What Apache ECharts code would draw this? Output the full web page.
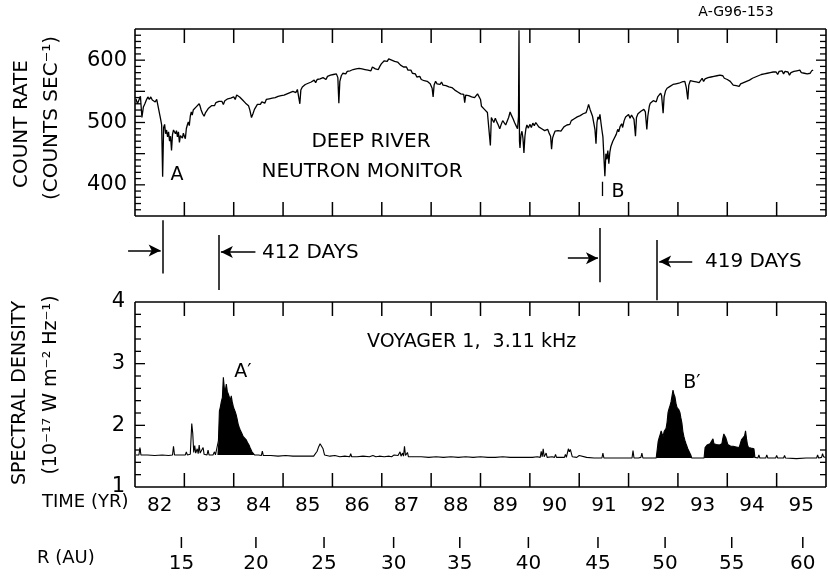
<!DOCTYPE html>
<html><head><meta charset="utf-8">
<script src="https://cdn.jsdelivr.net/npm/echarts@6/dist/echarts.min.js"></script>
<style>html,body{margin:0;padding:0;background:#fff}.c{width:828px;height:584px}</style>
</head><body><div class="c" id="v0"></div>
<script>
// ---- Deep River neutron monitor (count rate, counts/s) ----
const nmYear = [
 1982.02,1982.05,1982.08,1982.11,1982.14,1982.17,1982.20,1982.23,1982.26,1982.29,1982.32,1982.35,1982.38,1982.41,1982.44,1982.47,1982.50,1982.52,1982.54,1982.56,1982.58,1982.60,1982.62,1982.64,1982.66,1982.68,1982.70,1982.72,1982.74,1982.76,1982.78,1982.80,1982.82,1982.84,1982.86,1982.88,1982.90,1982.92,1982.94,1982.96,1982.98,
 1983.00,1983.02,1983.04,1983.06,1983.08,1983.10,1983.12,1983.14,1983.16,1983.18,1983.20,1983.22,1983.24,1983.26,1983.28,1983.30,1983.32,1983.34,1983.37,1983.40,1983.43,1983.46,1983.49,1983.52,1983.55,1983.58,1983.61,1983.64,1983.67,1983.70,1983.73,1983.76,1983.79,1983.82,1983.85,1983.88,1983.91,1983.94,1983.97,
 1984.00,1984.03,1984.06,1984.09,1984.12,1984.15,1984.18,1984.21,1984.24,1984.27,1984.30,1984.33,1984.36,1984.39,1984.42,1984.45,1984.48,1984.51,1984.54,1984.57,1984.60,1984.63,1984.66,1984.69,1984.72,1984.75,1984.78,1984.81,1984.84,1984.87,1984.90,1984.93,1984.96,1984.99,
 1985.02,1985.05,1985.08,1985.11,1985.14,1985.17,1985.20,1985.23,1985.26,1985.29,1985.32,1985.34,1985.36,1985.39,1985.42,1985.45,1985.48,1985.51,1985.54,1985.57,1985.60,1985.63,1985.66,1985.69,1985.72,1985.75,1985.78,1985.81,1985.84,1985.87,1985.90,1985.93,1985.96,1985.99,
 1986.02,1986.05,1986.08,1986.11,1986.13,1986.15,1986.18,1986.21,1986.24,1986.27,1986.30,1986.33,1986.36,1986.39,1986.42,1986.45,1986.48,1986.51,1986.54,1986.57,1986.60,1986.63,1986.66,1986.69,1986.72,1986.75,1986.78,1986.81,1986.84,1986.87,1986.90,1986.93,1986.96,1986.99,
 1987.02,1987.05,1987.08,1987.11,1987.14,1987.17,1987.20,1987.23,1987.26,1987.29,1987.32,1987.35,1987.38,1987.41,1987.44,1987.47,1987.50,1987.53,1987.56,1987.59,1987.62,1987.65,1987.68,1987.71,1987.74,1987.77,1987.80,1987.83,1987.86,1987.89,1987.92,1987.95,1987.98,
 1988.02,1988.04,1988.06,1988.09,1988.12,1988.15,1988.18,1988.21,1988.24,1988.27,1988.30,1988.33,1988.36,1988.39,1988.42,1988.45,1988.48,1988.51,1988.54,1988.57,1988.60,1988.63,1988.66,1988.68,1988.70,1988.73,1988.76,1988.79,1988.82,1988.85,1988.88,1988.91,1988.94,1988.97,
 1989.00,1989.02,1989.05,1989.08,1989.11,1989.14,1989.17,1989.20,1989.22,1989.24,1989.27,1989.30,1989.33,1989.36,1989.39,1989.42,1989.45,1989.48,1989.51,1989.54,1989.57,1989.60,1989.63,1989.66,1989.69,1989.72,1989.75,1989.77,1989.78,1989.79,1989.80,1989.82,1989.84,1989.86,1989.88,1989.90,1989.92,1989.94,1989.97,
 1990.00,1990.03,1990.06,1990.09,1990.12,1990.15,1990.18,1990.21,1990.24,1990.27,1990.30,1990.33,1990.36,1990.39,1990.42,1990.44,1990.46,1990.48,1990.51,1990.54,1990.57,1990.60,1990.63,1990.66,1990.69,1990.72,1990.75,1990.78,1990.81,1990.84,1990.87,1990.90,1990.93,1990.96,1990.99,
 1991.02,1991.05,1991.08,1991.11,1991.14,1991.17,1991.19,1991.22,1991.24,1991.27,1991.30,1991.32,1991.34,1991.36,1991.38,1991.40,1991.42,1991.44,1991.46,1991.48,1991.50,1991.52,1991.54,1991.56,1991.58,1991.60,1991.62,1991.64,1991.66,1991.68,1991.70,1991.72,1991.75,1991.78,1991.80,1991.83,1991.86,1991.88,1991.91,1991.94,1991.97,
 1992.00,1992.03,1992.06,1992.08,1992.11,1992.14,1992.16,1992.19,1992.22,1992.25,1992.28,1992.31,1992.34,1992.37,1992.39,1992.42,1992.44,1992.47,1992.50,1992.53,1992.56,1992.59,1992.62,1992.65,1992.67,1992.70,1992.72,1992.75,1992.78,1992.81,1992.84,1992.87,1992.90,1992.93,1992.96,1992.99,
 1993.02,1993.05,1993.08,1993.11,1993.14,1993.17,1993.20,1993.22,1993.25,1993.28,1993.31,1993.34,1993.37,1993.40,1993.43,1993.46,1993.49,1993.52,1993.55,1993.58,1993.61,1993.64,1993.67,1993.70,1993.73,1993.76,1993.79,1993.82,1993.85,1993.88,1993.91,1993.94,1993.97,
 1994.00,1994.03,1994.06,1994.09,1994.12,1994.15,1994.18,1994.21,1994.24,1994.27,1994.30,1994.33,1994.36,1994.39,1994.42,1994.45,1994.48,1994.51,1994.54,1994.57,1994.60,1994.63,1994.66,1994.69,1994.72,1994.75,1994.78,1994.81,1994.84,1994.87,1994.90,1994.93,1994.96,1994.99,
 1995.02,1995.05,1995.08,1995.11,1995.14,1995.17,1995.20,1995.23,1995.26,1995.29,1995.32,1995.35,1995.38,1995.41,1995.44,1995.47,1995.50,1995.53,1995.56,1995.59,1995.62,1995.65,1995.68,1995.71,1995.74
];
const nmCount = [
 538,530,533,542,508,525,530,536,541,537,541,536,539,533,537,534,513,505,496,413,492,497,482,488,477,485,470,478,455,481,488,490,482,487,477,485,468,479,482,475,483,
 478,474,490,496,501,495,510,517,512,520,523,519,525,528,524,530,526,520,514,510,516,519,523,521,527,530,527,532,529,534,531,534,529,535,533,538,535,539,536,
 541,537,544,547,541,543,536,538,531,530,527,519,508,514,521,525,529,532,529,533,535,531,537,535,538,535,539,536,540,538,542,539,543,540,
 544,541,546,544,548,545,550,552,548,553,550,530,552,557,555,561,558,563,560,565,562,568,564,569,566,570,567,572,573,569,574,571,576,573,
 577,574,578,572,531,566,575,579,581,578,582,579,583,580,585,582,586,583,587,584,586,583,585,588,584,587,583,589,590,586,588,585,590,594,
 597,599,601,598,602,603,600,602,598,600,597,595,592,594,589,587,589,584,582,584,579,577,578,573,572,574,569,571,567,570,566,568,562,
 555,541,560,566,562,565,561,565,560,563,559,562,557,560,556,558,552,554,549,551,546,549,545,532,544,547,543,546,541,544,540,543,546,548,
 537,526,528,521,524,516,518,463,508,505,500,507,501,496,490,497,503,502,496,495,508,517,511,506,500,495,490,510,648,470,459,480,486,475,451,478,490,496,491,
 497,492,499,495,500,497,493,496,490,492,487,485,489,483,478,457,475,480,486,483,487,490,486,489,493,491,496,499,497,503,501,506,504,509,507,
 511,509,514,512,516,523,529,521,524,510,497,488,466,500,509,505,513,500,488,477,445,414,450,441,455,434,452,461,458,470,473,468,481,489,485,494,498,492,503,509,506,
 513,507,512,510,505,478,508,514,511,518,515,521,517,489,510,526,531,528,535,537,533,541,544,547,543,515,541,551,555,552,558,556,561,558,562,559,
 563,560,565,562,566,556,537,560,567,570,566,569,565,568,564,567,571,566,570,568,572,569,573,570,574,571,575,572,576,573,575,571,573,
 569,571,566,565,560,563,559,562,558,562,559,564,561,566,563,568,566,571,568,573,570,575,572,577,574,578,575,579,576,580,577,581,578,581,
 577,582,579,583,578,582,579,581,576,580,577,582,579,583,580,584,580,583,579,582,578,581,579,583,584
];

// ---- Voyager 1, 3.11 kHz spectral density (1e-17 W m^-2 Hz^-1) ----
const voyYear = [
 1982.02,1982.08,1982.10,1982.12,1982.25,1982.40,1982.55,1982.68,1982.76,1982.78,1982.80,1982.92,
 1983.02,1983.04,1983.06,1983.12,1983.15,1983.17,1983.19,1983.21,1983.23,1983.26,1983.28,1983.30,1983.32,1983.36,1983.38,1983.40,1983.46,1983.48,1983.50,1983.58,1983.61,1983.63,1983.67,
 1983.69,1983.71,1983.73,1983.75,1983.77,1983.79,1983.81,1983.83,1983.85,1983.87,1983.89,1983.91,1983.93,1983.95,1983.97,1983.99,1984.01,1984.03,1984.05,1984.07,1984.09,1984.11,1984.13,1984.15,1984.17,1984.19,1984.22,1984.25,1984.28,1984.31,1984.33,1984.35,1984.37,1984.39,1984.42,
 1984.50,1984.56,1984.58,1984.60,1984.75,1984.90,1985.05,1985.20,1985.35,1985.50,1985.62,1985.66,1985.69,1985.72,1985.75,1985.78,1985.81,1985.84,1985.87,1985.95,1986.05,1986.15,1986.25,1986.35,1986.37,1986.39,1986.50,1986.62,1986.75,1986.82,1986.88,1986.95,1987.05,1987.15,1987.20,1987.25,1987.29,1987.33,1987.37,1987.39,1987.42,1987.44,1987.46,1987.48,1987.52,1987.54,
 1987.65,1987.80,1987.95,1988.10,1988.25,1988.40,1988.55,1988.70,1988.85,1989.00,1989.15,1989.30,1989.45,1989.60,1989.75,1989.90,1990.05,1990.15,1990.21,1990.23,1990.25,1990.27,1990.29,1990.33,1990.35,1990.45,1990.50,1990.52,1990.54,1990.70,1990.72,1990.74,1990.78,1990.80,1990.82,1990.84,1990.86,1990.95,1991.00,1991.02,1991.15,1991.30,1991.46,1991.48,1991.50,1991.65,1991.80,1991.95,1992.07,1992.09,1992.11,1992.20,1992.25,1992.27,1992.29,1992.38,1992.42,1992.44,1992.56,
 1992.58,1992.60,1992.62,1992.64,1992.66,1992.68,1992.70,1992.72,1992.74,1992.76,1992.78,1992.80,1992.82,1992.84,1992.86,1992.88,1992.90,1992.92,1992.94,1992.96,1992.98,1993.00,1993.02,1993.04,1993.06,1993.08,1993.10,1993.12,1993.14,1993.16,1993.18,1993.20,1993.22,1993.24,1993.26,1993.28,
 1993.40,1993.53,1993.55,1993.57,1993.59,1993.62,1993.65,1993.68,1993.71,1993.73,1993.75,1993.78,1993.81,1993.84,1993.87,1993.89,1993.91,1993.93,1993.95,1993.97,1993.99,1994.01,1994.04,1994.07,1994.09,1994.12,1994.15,1994.18,1994.21,1994.24,1994.27,1994.29,1994.31,1994.33,1994.35,1994.37,1994.39,1994.41,1994.43,1994.45,1994.48,1994.51,1994.54,1994.56,1994.58,
 1994.62,1994.64,1994.66,1994.78,1994.80,1994.82,1994.98,1995.00,1995.02,1995.14,1995.16,1995.18,1995.40,1995.60,1995.81,1995.83,1995.85,1995.91,1995.93,1995.95,1995.99
];
const voyDensity = [
 1.52,1.52,1.64,1.52,1.52,1.51,1.52,1.51,1.52,1.66,1.52,1.52,
 1.52,1.57,1.52,1.53,2.03,1.87,1.56,1.67,1.55,1.62,1.54,1.68,1.55,1.53,1.64,1.53,1.52,1.60,1.52,1.52,1.57,1.52,1.53,
 1.75,2.23,2.30,2.39,2.45,2.78,2.60,2.56,2.67,2.55,2.51,2.46,2.40,2.48,2.38,2.31,2.26,2.22,2.17,2.10,2.02,1.97,1.93,1.90,1.86,1.82,1.79,1.77,1.72,1.68,1.64,1.62,1.57,1.54,1.52,
 1.52,1.51,1.58,1.51,1.51,1.50,1.51,1.50,1.50,1.50,1.50,1.52,1.58,1.65,1.70,1.66,1.62,1.52,1.50,1.50,1.51,1.49,1.50,1.49,1.54,1.49,1.49,1.50,1.49,1.51,1.49,1.50,1.49,1.50,1.49,1.52,1.49,1.51,1.57,1.50,1.55,1.50,1.66,1.51,1.56,1.49,
 1.49,1.49,1.48,1.49,1.48,1.49,1.48,1.49,1.48,1.49,1.48,1.48,1.49,1.48,1.48,1.48,1.48,1.49,1.48,1.58,1.49,1.62,1.49,1.55,1.48,1.49,1.48,1.53,1.48,1.48,1.53,1.48,1.62,1.57,1.61,1.55,1.49,1.48,1.51,1.48,1.48,1.47,1.47,1.55,1.47,1.47,1.47,1.47,1.47,1.59,1.47,1.47,1.48,1.55,1.47,1.47,1.50,1.47,1.47,
 1.47,1.74,1.80,1.85,1.91,1.86,1.82,1.90,1.89,1.95,2.05,2.21,2.27,2.32,2.38,2.41,2.57,2.50,2.46,2.36,2.29,2.32,2.25,2.21,2.12,2.04,1.90,1.82,1.76,1.71,1.68,1.62,1.60,1.63,1.52,1.47,
 1.47,1.47,1.64,1.66,1.68,1.67,1.70,1.69,1.78,1.70,1.72,1.69,1.72,1.68,1.66,1.70,1.79,1.86,1.84,1.80,1.80,1.69,1.67,1.66,1.65,1.66,1.64,1.65,1.66,1.64,1.72,1.77,1.74,1.80,1.83,1.91,1.78,1.68,1.64,1.62,1.63,1.61,1.62,1.48,1.47,
 1.47,1.52,1.47,1.47,1.52,1.47,1.47,1.51,1.47,1.47,1.51,1.47,1.46,1.47,1.47,1.52,1.47,1.48,1.54,1.49,1.48
];
// emission events: start year, end year, background level
const peakStart = [1983.67, 1992.56];
const peakEnd = [1984.42, 1994.58];
const peakBackground = [1.52, 1.47];

// ---- axis labels ----
const timeLabelPos = [1982.5,1983.5,1984.5,1985.5,1986.5,1987.5,1988.5,1989.5,1990.5,1991.5,1992.5,1993.5,1994.5,1995.5];
const timeLabels = ['82','83','84','85','86','87','88','89','90','91','92','93','94','95'];
const rAU = [15,20,25,30,35,40,45,50,55,60];
const rYear = [1982.94,1984.45,1985.83,1987.24,1988.58,1989.97,1991.38,1992.74,1994.09,1995.53];
const countTicks = [400,500,600];
// events A, A', B, B'
const eventYear = [1982.56, 1983.69, 1991.42, 1992.57];
const eventB = 1991.47;

const FONT = 'DejaVu Sans';
const BLACK = '#000';
const X_MIN = 1982, X_MAX = 1996;

function build(){
const noLine = {show:false};
function xAx(grid, pos, extra){
  return Object.assign({gridIndex:grid, type:'value', min:X_MIN, max:X_MAX, interval:1, position:pos,
    axisLine:noLine, axisTick:{show:false}, axisLabel:{show:false}, splitLine:{show:false}}, extra||{});
}
function yAx(grid, pos, min, max, interval, labels){
  return {gridIndex:grid, type:'value', min:min, max:max, interval:interval, position:pos,
    axisLine:noLine, axisTick:{show:false}, minorTick:{show:false},
    splitLine:{show:false}, minorSplitLine:{show:false},
    axisLabel: labels ? Object.assign({color:BLACK, fontFamily:FONT, fontSize:21}, labels) : {show:false}};
}
function lookup(keys, vals){
  return function(v){ const i = keys.findIndex(k => Math.abs(k - v) < 1e-6); return i < 0 ? '' : String(vals[i]); };
}
function T(text, x, y, size, align, rot){
  return {type:'text', x:x, y:y, rotation:rot||0, silent:true,
    style:{text:text, fill:BLACK, fontFamily:FONT, fontSize:size, align:align||'center', verticalAlign:'middle', textAlign:align||'center', textVerticalAlign:'middle'}};
}
// panel frame with inward ticks, drawn through the panel's own axes
function frameSeries(xi, yi, ymin, ymax, yStep, yMajor, rTicks){
  return {type:'custom', xAxisIndex:xi, yAxisIndex:yi, silent:true, clip:false, z:5, data:[[X_MIN, ymin]],
    renderItem:function(params, api){
      const bl = api.coord([X_MIN, ymin]), tr = api.coord([X_MAX, ymax]);
      const L = bl[0], B = bl[1], R = tr[0], Tp = tr[1];
      const kids = [];
      const ln = (pts, w) => kids.push({type:'polyline', shape:{points:pts}, style:{stroke:BLACK, lineWidth:w, fill:null}});
      ln([[L,Tp],[R,Tp]],1.6); ln([[R,Tp],[R,B]],1.6); ln([[R,B],[L,B]],1.6); ln([[L,B],[L,Tp]],1.6);
      for (let yr = X_MIN + 1; yr < X_MAX; yr++) {
        const x = api.coord([yr, ymin])[0];
        ln([[x,B],[x,B-14]],1.5); ln([[x,Tp],[x,Tp+14]],1.5);
      }
      const n = Math.round((ymax - ymin) / yStep);
      for (let k = 1; k < n; k++) {
        const v = ymin + k * yStep;
        const y = api.coord([X_MIN, v])[1];
        const q = v / yMajor, major = Math.abs(q - Math.round(q)) < 1e-6;
        const len = major ? 10 : 6;
        ln([[L,y],[L+len,y]],1.3); ln([[R,y],[R-len,y]],1.3);
      }
      (rTicks||[]).forEach(ry => { const x = api.coord([ry, ymin])[0]; ln([[x,B+50],[x,B+61]],1.5); });
      return {type:'group', children:kids};
    }};
}
const nmData = nmYear.map((y,i) => [y, nmCount[i]]);
const voyData = voyYear.map((y,i) => [y, voyDensity[i]]);
const fillSeries = peakStart.map((s, k) => ({
  type:'line', xAxisIndex:2, yAxisIndex:2, symbol:'none', silent:true,
  data: voyData.filter(d => d[0] >= s && d[0] <= peakEnd[k]),
  lineStyle:{width:0, opacity:0},
  areaStyle:{color:BLACK, opacity:1, origin:peakBackground[k]}
}));
const vlines = [[eventYear[0],0.05,0.67],[eventYear[1],0.22,0.86],[eventYear[2],0.14,0.77],[eventYear[3],0.28,0.98]];
const arrows = [[eventYear[0]-0.70,eventYear[0]-0.04,0.40],[eventYear[1]+0.75,eventYear[1]+0.05,0.42],[eventYear[2]-0.65,eventYear[2]-0.04,0.49],[eventYear[3]+0.72,eventYear[3]+0.05,0.53]];
const PX_PER_YEAR = (828 - 2 - 135) / (X_MAX - X_MIN);
return {
  animation:false, backgroundColor:'#fff',
  grid:[{left:135, right:2, top:29, height:187},{left:135, right:2, top:302, height:185},{left:135 - PX_PER_YEAR, right:2, top:216, height:86}],
  xAxis:[
    xAx(0,'bottom'), xAx(0,'top'),
    xAx(1,'bottom',{axisLabel:{show:true, customValues:timeLabelPos, formatter:lookup(timeLabelPos,timeLabels), color:BLACK, fontFamily:FONT, fontSize:20, margin:9}}),
    xAx(1,'top'),
    xAx(1,'bottom',{offset:50, axisLabel:{show:true, customValues:rYear, formatter:lookup(rYear,rAU), color:BLACK, fontFamily:FONT, fontSize:20, margin:17}}),
    {gridIndex:2, type:'value', min:X_MIN - 1, max:X_MAX, show:false}
  ],
  yAxis:[
    yAx(0,'left',350,650,50,{formatter:v => countTicks.indexOf(v) >= 0 ? String(v) : '', margin:8}),
    yAx(0,'right',350,650,50,null),
    yAx(1,'left',1,4,1,{margin:10}),
    yAx(1,'right',1,4,1,null),
    {gridIndex:2, type:'value', min:0, max:1, inverse:true, show:false}
  ],
  series:[
    {type:'line', xAxisIndex:0, yAxisIndex:0, symbol:'none', silent:true, data:nmData, lineStyle:{color:BLACK, width:1.3},
      markLine:{silent:true, symbol:'none', label:{show:false}, lineStyle:{color:BLACK, width:1.3, type:'solid'}, data:[[{coord:[eventB, 382]},{coord:[eventB, 405]}]]}},
    {type:'line', xAxisIndex:2, yAxisIndex:2, symbol:'none', silent:true, data:voyData, lineStyle:{color:BLACK, width:1.1}},
    ...fillSeries,
    frameSeries(0, 0, 350, 650, 10, 50, null),
    frameSeries(2, 2, 1, 4, 0.2, 1, rYear),
    {type:'line', xAxisIndex:5, yAxisIndex:4, data:[], silent:true, clip:false,
      markLine:{silent:true, symbol:['none','arrow'], symbolSize:[9,12], label:{show:false}, animation:false, lineStyle:{color:BLACK, width:1.5, type:'solid'},
        data: arrows.map(a => [{coord:[a[0], a[2]]},{coord:[a[1], a[2]]}]).concat(vlines.map(v => [{coord:[v[0], v[1]], symbol:'none'},{coord:[v[0], v[2]], symbol:'none'}]))}}
  ],
  graphic:[
    T('A-G96-153', 736, 12, 14),
    T('COUNT RATE', 22, 124, 20, 'center', Math.PI/2),
    T('(COUNTS SEC\u207B\u00B9)', 52, 118, 20, 'center', Math.PI/2),
    T('SPECTRAL DENSITY', 20, 393, 19, 'center', Math.PI/2),
    T('(10\u207B\u00B9\u2077 W m\u207B\u00B2 Hz\u207B\u00B9)', 51, 385, 19, 'center', Math.PI/2),
    T('DEEP RIVER', 371, 142, 20),
    T('NEUTRON MONITOR', 362, 172, 20),
    T('A', 177, 175, 19),
    T('B', 618, 192, 19),
    T('412 DAYS', 262, 253, 20, 'left'),
    T('419 DAYS', 705, 262, 20, 'left'),
    T('VOYAGER 1,  3.11 kHz', 367, 342, 19, 'left'),
    T('A\u2032', 243, 372, 19),
    T('B\u2032', 692, 383, 19),
    T('TIME (YR)', 42, 502, 18, 'left'),
    T('R (AU)', 37, 558, 18, 'left')
  ]
};
}
const chart = echarts.init(document.getElementById('v0'));
chart.setOption(build());
</script></body></html>
